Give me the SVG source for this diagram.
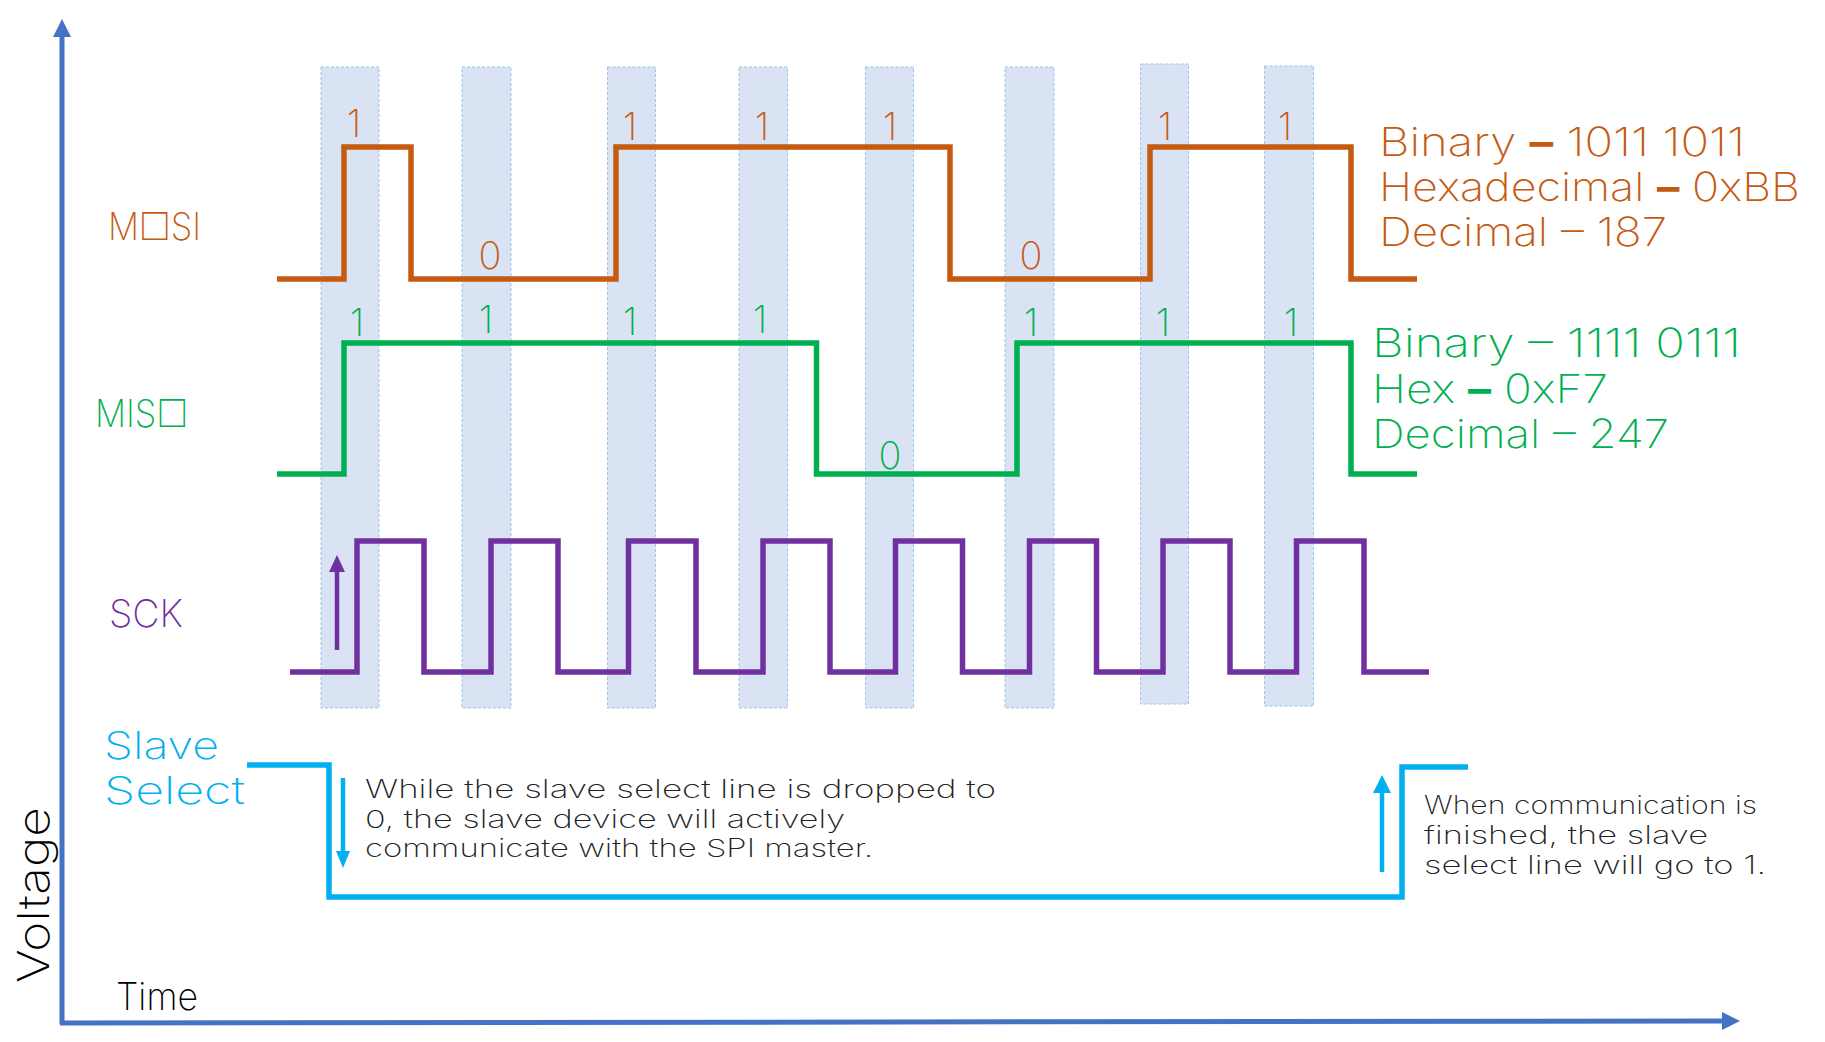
<svg xmlns="http://www.w3.org/2000/svg" width="1825" height="1042" viewBox="0 0 1825 1042">
<style>
.col{fill:#DAE3F3;stroke:#9DC3E6;stroke-width:1;stroke-dasharray:3 2}
.sig{fill:none;stroke-width:5.5;stroke-linejoin:miter;stroke-linecap:butt}
text{font-family:Inter,"DejaVu Sans",sans-serif;font-weight:150}
.lbl{font-size:38px}
.bit{font-size:38px;text-anchor:middle}
.val{font-size:40px}
.b{font-weight:700}
.note{font-size:25px;fill:#222;font-weight:200}
.mosi{stroke:#C55A11}.mosiT{fill:#C55A11}
.miso{stroke:#00B050}.misoT{fill:#00B050}
.sck{stroke:#7030A0}.sckT{fill:#7030A0}
.ss{stroke:#00B0F0}.ssT{fill:#00B0F0}
</style>
<rect width="1825" height="1042" fill="#fff"/>
<g id="columns">
<rect class="col" x="321" y="67" width="58" height="641"/>
<rect class="col" x="462" y="67" width="49" height="641"/>
<rect class="col" x="607.5" y="67" width="48" height="641"/>
<rect class="col" x="739" y="67" width="48.5" height="641"/>
<rect class="col" x="865.5" y="67" width="48" height="641"/>
<rect class="col" x="1005" y="67" width="49" height="641"/>
<rect class="col" x="1140.5" y="64" width="48" height="640"/>
<rect class="col" x="1264.5" y="66" width="49" height="640"/>
</g>
<g id="axes">
<line x1="62" y1="1024" x2="62" y2="36" stroke="#4472C4" stroke-width="5"/>
<polygon points="62,19 53,37 71,37" fill="#4472C4"/>
<line x1="60" y1="1023" x2="1723" y2="1021" stroke="#4472C4" stroke-width="5"/>
<polygon points="1740,1021 1722,1012 1722,1030" fill="#4472C4"/>
<text x="49" y="983" font-size="43" transform="rotate(-90 49 983)" textLength="176" lengthAdjust="spacingAndGlyphs">Voltage</text>
<text x="116" y="1010" class="lbl" textLength="82" lengthAdjust="spacingAndGlyphs">Time</text>
</g>
<g id="mosi">
<text x="108" y="240" class="lbl mosiT" textLength="93" lengthAdjust="spacingAndGlyphs">M□SI</text>
<path class="sig mosi" d="M277,279 H344 V147 H411 V279 H616 V147 H950 V279 H1150 V147 H1351 V279 H1417"/>
<g class="mosiT">
<text class="bit" x="354" y="137">1</text>
<text class="bit" x="490" y="269">0</text>
<text class="bit" x="630" y="140">1</text>
<text class="bit" x="762" y="140">1</text>
<text class="bit" x="890" y="140">1</text>
<text class="bit" x="1031" y="269">0</text>
<text class="bit" x="1165" y="140">1</text>
<text class="bit" x="1285" y="140">1</text>
<text class="val" x="1379" y="156" textLength="366" lengthAdjust="spacingAndGlyphs">Binary <tspan class="b">–</tspan> 1011 1011</text>
<text class="val" x="1379" y="201" textLength="421" lengthAdjust="spacingAndGlyphs">Hexadecimal <tspan class="b">–</tspan> 0xBB</text>
<text class="val" x="1379" y="246" textLength="288" lengthAdjust="spacingAndGlyphs">Decimal – 187</text>
</g>
</g>
<g id="miso">
<text x="95" y="427" class="lbl misoT" textLength="93" lengthAdjust="spacingAndGlyphs">MIS□</text>
<path class="sig miso" d="M277,474 H344 V343 H816.5 V474 H1017 V343 H1351 V474 H1417"/>
<g class="misoT">
<text class="bit" x="357" y="336">1</text>
<text class="bit" x="486" y="333">1</text>
<text class="bit" x="630" y="335">1</text>
<text class="bit" x="760" y="333">1</text>
<text class="bit" x="890" y="469">0</text>
<text class="bit" x="1031" y="336">1</text>
<text class="bit" x="1163" y="336">1</text>
<text class="bit" x="1291" y="336">1</text>
<text class="val" x="1372" y="357" textLength="369" lengthAdjust="spacingAndGlyphs">Binary – 1111 0111</text>
<text class="val" x="1372" y="403" textLength="236" lengthAdjust="spacingAndGlyphs">Hex <tspan class="b">–</tspan> 0xF7</text>
<text class="val" x="1372" y="448" textLength="297" lengthAdjust="spacingAndGlyphs">Decimal – 247</text>
</g>
</g>
<g id="sck">
<text x="109" y="627" class="lbl sckT" textLength="74" lengthAdjust="spacingAndGlyphs">SCK</text>
<path class="sig sck" d="M290,672 H357 V541 H424 V672 H491 V541 H558 V672 H628.5 V541 H696 V672 H763 V541 H830 V672 H895.5 V541 H962.5 V672 H1029.5 V541 H1096.5 V672 H1163 V541 H1230 V672 H1296.5 V541 H1364 V672 H1429"/>
<line x1="337" y1="650" x2="337" y2="570" stroke="#7030A0" stroke-width="4.5"/>
<polygon points="337,555 329,572 345,572" fill="#7030A0"/>
</g>
<g id="slave-select">
<text x="104" y="759" class="lbl ssT" textLength="115" lengthAdjust="spacingAndGlyphs">Slave</text>
<text x="104" y="804" class="lbl ssT" textLength="141" lengthAdjust="spacingAndGlyphs">Select</text>
<path class="sig ss" d="M247,765 H329 V897 H1402 V767 H1468"/>
<line x1="343" y1="778" x2="343" y2="854" stroke="#00B0F0" stroke-width="4.5"/>
<polygon points="343,868 336,851 350,851" fill="#00B0F0"/>
<line x1="1382" y1="872" x2="1382" y2="790" stroke="#00B0F0" stroke-width="4.5"/>
<polygon points="1382,775 1373,793 1391,793" fill="#00B0F0"/>
<text class="note" x="365" y="798" textLength="631" lengthAdjust="spacingAndGlyphs">While the slave select line is dropped to</text>
<text class="note" x="365" y="828" textLength="480" lengthAdjust="spacingAndGlyphs">0, the slave device will actively</text>
<text class="note" x="365" y="857" textLength="508" lengthAdjust="spacingAndGlyphs">communicate with the SPI master.</text>
<text class="note" x="1424" y="814" textLength="333" lengthAdjust="spacingAndGlyphs">When communication is</text>
<text class="note" x="1424" y="844" textLength="284" lengthAdjust="spacingAndGlyphs">finished, the slave</text>
<text class="note" x="1424" y="874" textLength="342" lengthAdjust="spacingAndGlyphs">select line will go to 1.</text>
</g>
</svg>
